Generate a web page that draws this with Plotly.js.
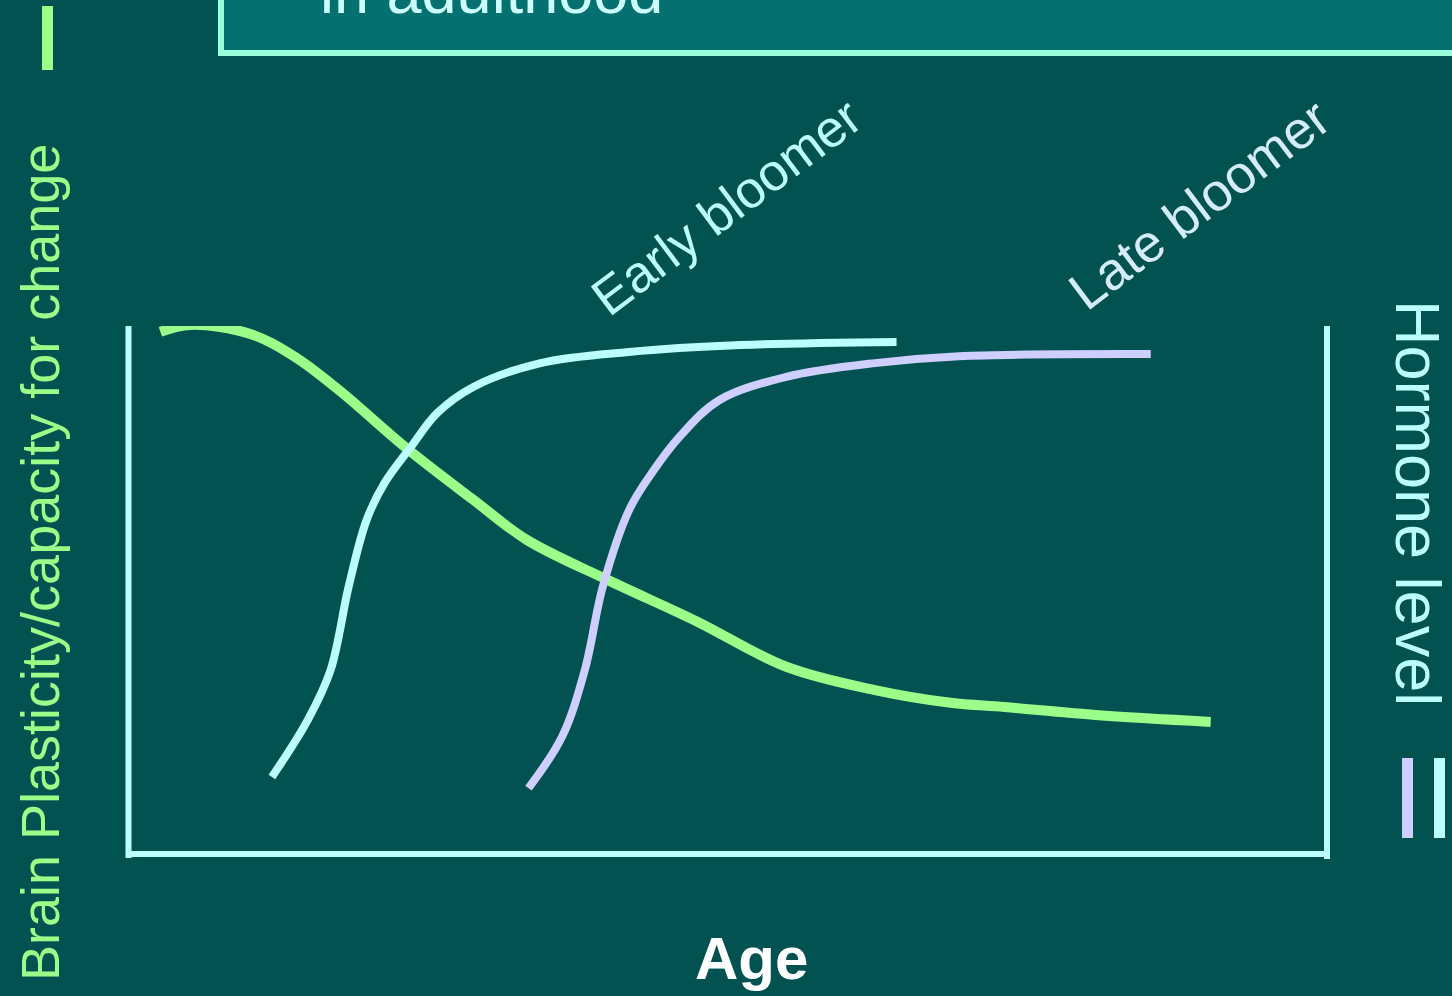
<!DOCTYPE html>
<html>
<head>
<meta charset="utf-8">
<script src="https://cdn.plot.ly/plotly-3.0.1.min.js"></script>
<style>
  html, body { margin: 0; padding: 0; background: #035252; overflow: hidden; }
  #chart { width: 1452px; height: 996px; }
</style>
</head>
<body>
<div id="chart"></div>
<script>
// ---- Data (age on 0-100 scale, level on 0-100 scale) ----
const plasticityAge = [2.7, 5.2, 10.2, 13.9, 17.6, 23.2, 28.8, 33.3, 40.0, 47.4, 54.9, 62.3, 68.6, 73.1, 80.7, 90.3];
const plasticityLevel = [98.9, 100.2, 98.5, 94.2, 87.9, 77.0, 67.2, 59.6, 52.1, 44.3, 35.7, 31.3, 28.9, 28.1, 26.6, 25.3];

const earlyAge = [12.0, 15.0, 16.9, 18.4, 19.9, 21.4, 23.6, 25.8, 28.8, 34.4, 41.8, 51.1, 64.1];
const earlyHormone = [14.9, 25.7, 35.1, 50.8, 63.4, 70.4, 77.2, 83.6, 88.5, 93.0, 95.1, 96.4, 97.0];

const lateAge = [33.4, 36.2, 38.1, 39.6, 41.8, 43.7, 46.0, 49.3, 54.9, 62.3, 69.3, 85.3];
const lateHormone = [12.8, 22.5, 35.1, 50.8, 65.3, 72.3, 79.1, 86.0, 90.4, 93.0, 94.3, 94.7];

const labels = {
  caption: "in adulthood",
  leftAxis: "Brain Plasticity/capacity for change",
  rightAxis: "Hormone level",
  xAxis: "Age",
  early: "Early bloomer",
  late: "Late bloomer"
};

// ---- Layout helpers (pixel -> paper) ----
const W = 1452, H = 996;
const L = 128, R = 1327, T = 326, B = 856;
const px = x => (x - L) / (R - L);
const py = y => (B - y) / (B - T);

const BG = '#035252';
const GREEN = '#99FF88';
const CYAN = '#BBFFFF';
const LAV = '#CFCFFF';
const FONT = 'Liberation Sans, Arial, Helvetica, sans-serif';

const traces = [
  { x: plasticityAge, y: plasticityLevel, mode: 'lines', line: { color: GREEN, width: 10, shape: 'spline', smoothing: 1 }, hoverinfo: 'skip' },
  { x: earlyAge, y: earlyHormone, mode: 'lines', line: { color: CYAN, width: 8, shape: 'spline', smoothing: 1 }, hoverinfo: 'skip' },
  { x: lateAge, y: lateHormone, mode: 'lines', line: { color: LAV, width: 8, shape: 'spline', smoothing: 1 }, hoverinfo: 'skip' }
];

const shapes = [
  // caption box at top
  { type: 'rect', xref: 'paper', yref: 'paper', x0: px(221), x1: px(1470), y0: py(53), y1: py(-20),
    fillcolor: '#047070', line: { color: '#99FFDD', width: 6 }, layer: 'below' },
  // frame lines
  { type: 'line', xref: 'paper', yref: 'paper', x0: px(128.5), x1: px(128.5), y0: py(858), y1: py(326), line: { color: CYAN, width: 6 } },
  { type: 'line', xref: 'paper', yref: 'paper', x0: px(126), x1: px(1327), y0: py(854), y1: py(854), line: { color: CYAN, width: 6 } },
  { type: 'line', xref: 'paper', yref: 'paper', x0: px(1327), x1: px(1327), y0: py(859), y1: py(326), line: { color: CYAN, width: 6 } },
  // legend bars
  { type: 'rect', xref: 'paper', yref: 'paper', x0: px(42), x1: px(53), y0: py(70), y1: py(6), fillcolor: GREEN, line: { width: 0 } },
  { type: 'rect', xref: 'paper', yref: 'paper', x0: px(1402), x1: px(1413), y0: py(838), y1: py(758), fillcolor: LAV, line: { width: 0 } },
  { type: 'rect', xref: 'paper', yref: 'paper', x0: px(1434), x1: px(1445), y0: py(838), y1: py(758), fillcolor: CYAN, line: { width: 0 } }
];

const annotations = [
  { text: labels.caption, xref: 'paper', yref: 'paper', x: px(318), y: py(28), xanchor: 'left', yanchor: 'bottom',
    showarrow: false, font: { family: FONT, size: 63, color: '#CCFFFF' } },
  { text: labels.leftAxis, xref: 'paper', yref: 'paper', x: px(40), y: py(563), xanchor: 'center', yanchor: 'middle',
    textangle: -90, showarrow: false, font: { family: FONT, size: 54, color: GREEN } },
  { text: labels.rightAxis, xref: 'paper', yref: 'paper', x: px(1418), y: py(503), xanchor: 'center', yanchor: 'middle',
    textangle: 90, showarrow: false, font: { family: FONT, size: 63, color: CYAN } },
  { text: '<b>' + labels.xAxis + '</b>', xref: 'paper', yref: 'paper', x: px(751), y: py(958), xanchor: 'center', yanchor: 'middle',
    showarrow: false, font: { family: FONT, size: 60, color: '#FFFFFF' } },
  { text: labels.early, xref: 'paper', yref: 'paper', x: px(726), y: py(207), xanchor: 'center', yanchor: 'middle',
    textangle: -37, showarrow: false, font: { family: FONT, size: 52, color: CYAN } },
  { text: labels.late, xref: 'paper', yref: 'paper', x: px(1199), y: py(205), xanchor: 'center', yanchor: 'middle',
    textangle: -37, showarrow: false, font: { family: FONT, size: 53, color: '#D5EDF8' } }
];

const layout = {
  width: W, height: H,
  margin: { l: L, r: W - R, t: T, b: H - B, pad: 0 },
  paper_bgcolor: BG, plot_bgcolor: BG,
  showlegend: false,
  xaxis: { range: [0, 100], visible: false, fixedrange: true },
  yaxis: { range: [0, 100], visible: false, fixedrange: true },
  shapes: shapes,
  annotations: annotations
};

Plotly.newPlot('chart', traces, layout, { displayModeBar: false, staticPlot: true });
</script>
</body>
</html>
